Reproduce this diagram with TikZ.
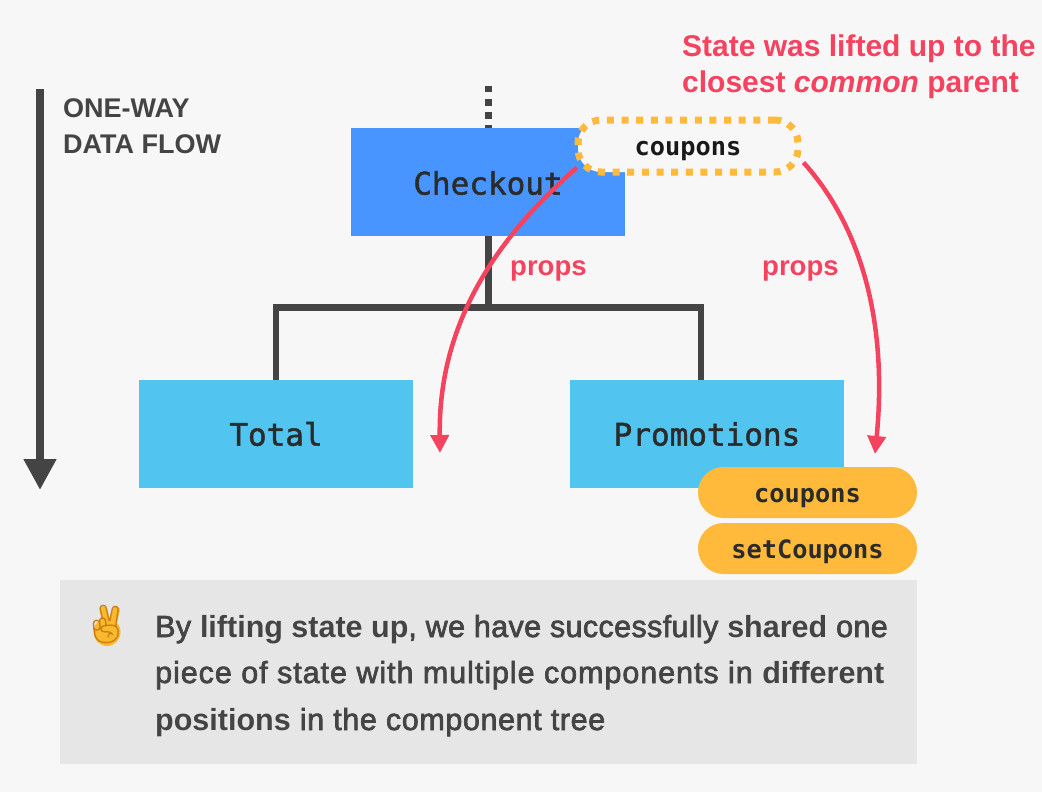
\documentclass[tikz,border=0pt]{standalone}
\usepackage{fontspec}
\usetikzlibrary{arrows.meta}
\setmainfont{Liberation Sans}
\newfontfamily\medfont[FakeBold=2.2,LetterSpace=1.2]{Liberation Sans}
\newfontfamily\medfontb[FakeBold=2.2,LetterSpace=3.1]{Liberation Sans}
\newfontfamily\medfontc[FakeBold=2.2,LetterSpace=2]{Liberation Sans}
\newfontfamily\boldfont[BoldFont={Liberation Sans Bold},UprightFont={* Bold},ItalicFont={* Bold Italic}]{Liberation Sans}
\newfontfamily\codefont[FakeBold=1.5]{DejaVu Sans Mono}
\newfontfamily\codeboldfont[UprightFont={* Bold}]{DejaVu Sans Mono}
\newfontfamily\emojifont{Noto Emoji}
\definecolor{bgc}{HTML}{F7F7F7}
\definecolor{darkc}{HTML}{444444}
\definecolor{redc}{HTML}{F5435F}
\definecolor{bluec}{HTML}{4895FF}
\definecolor{cyanc}{HTML}{51C5EF}
\definecolor{orangec}{HTML}{FFB93B}
\definecolor{greyc}{HTML}{E6E6E6}
\definecolor{inkc}{HTML}{2B2B2B}
\definecolor{handc}{HTML}{F9B92E}
\definecolor{handline}{HTML}{C97F10}
\tikzset{
  comp/.style={minimum width=274pt,minimum height=108pt,inner sep=0pt,text=inkc,font=\codefont\fontsize{31}{34}\selectfont},
  statepill/.style={fill=orangec,rounded corners=25.5pt,minimum width=219pt,minimum height=51pt,inner sep=0pt,text=inkc,text height=20pt,text depth=0pt,font=\codeboldfont\fontsize{25.3}{28}\selectfont},
  tree/.style={draw=darkc,line width=6.5pt},
  liftarrow/.style={draw=redc,line width=4.5pt,-{Triangle[width=18pt,length=18pt]}},
  redlabel/.style={text=redc,font=\boldfont\fontsize{27.5}{32}\selectfont,inner sep=0pt,anchor=base west},
  notelabel/.style={text=redc,font=\boldfont\fontsize{30}{34}\selectfont,inner sep=0pt,anchor=base west},
  flowlabel/.style={text=darkc,font=\boldfont\fontsize{27}{32}\selectfont,inner sep=0pt,anchor=base west},
  bodytext/.style={text=darkc,font=\fontsize{30.5}{34}\selectfont,inner sep=0pt,anchor=base west},
}
\begin{document}
\begin{tikzpicture}[x=1pt,y=-1pt]
\useasboundingbox (0,0) rectangle (1042,792);
\fill[bgc] (0,0) rectangle (1042,792);

% one-way flow arrow
\coordinate (flowtop) at (40,89);
\coordinate (flowtip) at (40,490);
\draw[draw=darkc,line width=8pt,-{Triangle[width=31pt,length=31pt]}] (flowtop) -- (flowtip);
\node[flowlabel] (flowa) at (63,117.5) {ONE-WAY};
\node[flowlabel] (flowb) at (63,153.5) {DATA FLOW};

% tree
\coordinate (treetop) at (488.7,86);
\coordinate (junction) at (488.7,307.5);
\coordinate (jleft) at (276,307.5);
\coordinate (jright) at (701,307.5);
\node[comp,fill=bluec] (checkout) at (488,182) {};
\node[comp,fill=cyanc] (total) at (276,434) {Total};
\node[comp,fill=cyanc] (promotions) at (707,434) {Promotions};
\draw[darkc,line width=6.5pt,dash pattern=on 6.5pt off 6.5pt] (treetop) -- (checkout.north -| treetop);
\draw[tree] (checkout.south -| junction) -- (junction);
\draw[tree] (jleft |- total.north) -- (jleft) -- (jright) -- (jright |- promotions.north);
\node[text=inkc,font=\codefont\fontsize{31}{34}\selectfont,inner sep=0pt] (checkoutlabel) at (488,183) {Checkout};

% lifted state
\node[draw=orangec,fill=bgc,line width=7pt,dash pattern=on 7pt off 7.65pt,rounded corners=23pt,minimum width=220pt,minimum height=52pt,inner sep=0pt,text=black!90,text height=19pt,text depth=0pt,font=\codeboldfont\fontsize{25.3}{28}\selectfont] (lifted) at (688,146) {coupons};

% state pills
\node[statepill] (coupons) at (807.5,492.5) {coupons};
\node[statepill] (setcoupons) at (807.5,548.5) {setCoupons};

% red arrows
\coordinate (lefttip) at (440,453);
\coordinate (righttip) at (875,454);
\coordinate (leftstart) at ([xshift=2.5pt,yshift=8pt]lifted.south west);
\coordinate (rightstart) at ([xshift=2pt,yshift=13pt]lifted.south east);
\draw[liftarrow] (leftstart) .. controls (500,235) and (438,320) .. (lefttip);
\draw[liftarrow] (rightstart) .. controls (860,225) and (888,320) .. (righttip);
\node[redlabel] (propsa) at (510,275) {props};
\node[redlabel] (propsb) at (762,275) {props};
\node[notelabel] (notea) at (682,56.5) {State was lifted up to the};
\node[notelabel] (noteb) at (682,92.5) {closest {\itshape common} parent};

% note box
\fill[greyc] (60,580) rectangle (917,764);
\fill[handc] (107,632) ellipse [x radius=13.5, y radius=14];
\draw[handc,line width=7pt,line cap=round] (103.5,610) -- (108,628);
\draw[handc,line width=7pt,line cap=round] (116.5,610) -- (112,628);
\node[inner sep=0pt,text=handline,font=\emojifont\fontsize{38}{40}\selectfont] (hand) at (106,625) {✌};
\node[bodytext] (linea) at (155,637) {\medfont By {\boldfont lifting state up}, we have successfully {\boldfont shared} one};
\node[bodytext] (lineb) at (155,683) {\medfontb piece of state with multiple components in {\boldfont different}};
\node[bodytext] (linec) at (155,730) {\medfontc {\boldfont positions} in the component tree};
\end{tikzpicture}
\end{document}
